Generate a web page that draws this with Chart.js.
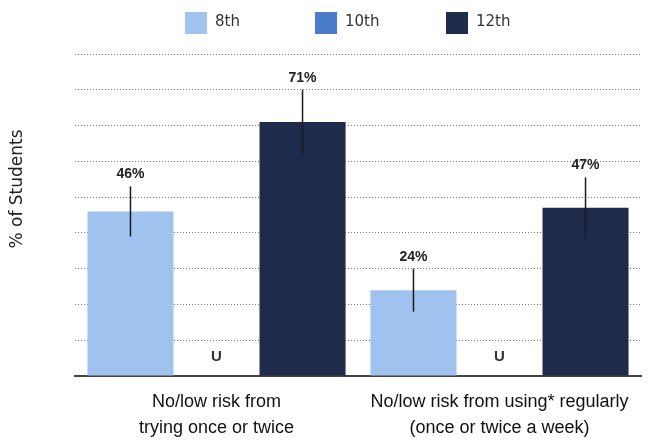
<!DOCTYPE html>
<html>
<head>
<meta charset="utf-8">
<script src="https://cdn.jsdelivr.net/npm/chart.js@4"></script>
<style>
  html, body { margin: 0; padding: 0; background: #fff; }
  #wrap { width: 650px; height: 440px; position: relative; }
</style>
</head>
<body>
<div id="wrap"><canvas id="chart"></canvas></div>
<script>
// categories and values
const categories = [
    ['No/low risk from', 'trying once or twice'],
    ['No/low risk from using* regularly', '(once or twice a week)']
];
const gradeNames = ['8th', '10th', '12th'];
const grade8 = [46, 24];
const grade10 = [null, null];   // "U" = unavailable
const grade12 = [71, 47];
// half-length of the confidence lines
const err8 = [7, 6];
const err12 = [9, 8.5];
const yMax = 90;
const yStep = 10;

const colors = ['#9fc3ee', '#4a7ccb', '#1f2b4b'];

// extra drawing: error lines, value labels, "U", legend, y title
const annotate = {
    id: 'annotate',
    afterDatasetsDraw(chart) {
        const ctx = chart.ctx;
        const y = chart.scales.y;
        const errs = [err8, null, err12];
        ctx.save();
        [0, 2].forEach(function(d) {
            const meta = chart.getDatasetMeta(d);
            const vals = chart.data.datasets[d].data;
            meta.data.forEach(function(bar, i) {
                const v = vals[i];
                if (v == null) return;
                const top = y.getPixelForValue(v + errs[d][i]);
                const bot = y.getPixelForValue(v - errs[d][i]);
                ctx.strokeStyle = '#1a1a1a';
                ctx.lineWidth = 1.5;
                ctx.beginPath();
                ctx.moveTo(bar.x, top);
                ctx.lineTo(bar.x, bot);
                ctx.stroke();
                ctx.fillStyle = '#222';
                ctx.font = 'bold 14px "Liberation Sans", Arial, sans-serif';
                ctx.textAlign = 'center';
                ctx.textBaseline = 'bottom';
                ctx.fillText(v + '%', bar.x, top - 5);
            });
        });
        // "U" in the empty 10th-grade slot
        const m8 = chart.getDatasetMeta(0);
        const m12 = chart.getDatasetMeta(2);
        grade10.forEach(function(v, i) {
            if (v != null) return;
            const x = (m8.data[i].x + m12.data[i].x) / 2;
            ctx.fillStyle = '#333';
            ctx.font = 'bold 15px "Liberation Sans", Arial, sans-serif';
            ctx.textAlign = 'center';
            ctx.textBaseline = 'middle';
            ctx.fillText('U', x, y.getPixelForValue(0) - 19);
        });
        ctx.restore();
    },
    afterDraw(chart) {
        const ctx = chart.ctx;
        ctx.save();
        // legend
        const boxX = [185, 315, 446];
        ctx.font = '15px "DejaVu Sans", sans-serif';
        ctx.textBaseline = 'middle';
        ctx.textAlign = 'left';
        gradeNames.forEach(function(name, i) {
            ctx.fillStyle = colors[i];
            ctx.fillRect(boxX[i], 12, 22, 22);
            ctx.fillStyle = '#333';
            ctx.fillText(name, boxX[i] + 30, 22);
        });
        // y axis title
        ctx.font = '17px "DejaVu Sans", sans-serif';
        ctx.translate(18, 189);
        ctx.rotate(-Math.PI / 2);
        ctx.textAlign = 'center';
        ctx.fillStyle = '#222';
        ctx.fillText('% of Students', 0, 0);
        ctx.restore();
    }
};

new Chart(document.getElementById('chart'), {
    type: 'bar',
    data: {
        labels: categories,
        datasets: [
            { label: gradeNames[0], data: grade8, backgroundColor: colors[0] },
            { label: gradeNames[1], data: grade10, backgroundColor: colors[1] },
            { label: gradeNames[2], data: grade12, backgroundColor: colors[2] }
        ]
    },
    options: {
        responsive: true,
        maintainAspectRatio: false,
        animation: false,
        layout: { padding: { top: 54, right: 9, left: 0, bottom: 0 } },
        datasets: {
            bar: { barPercentage: 1.0, categoryPercentage: 0.912 }
        },
        plugins: {
            legend: { display: false },
            tooltip: { enabled: false }
        },
        scales: {
            x: {
                grid: { display: false },
                border: { color: '#444', width: 2 },
                ticks: {
                    color: '#111',
                    padding: 5,
                    font: { family: '"Liberation Sans", Arial, sans-serif', size: 18, lineHeight: 1.45 }
                },
                afterFit: function(scale) { scale.height = 64; }
            },
            y: {
                min: 0,
                max: yMax,
                ticks: { display: false, stepSize: yStep },
                border: { display: false, dash: [1, 2] },
                grid: {
                    drawTicks: false,
                    color: function(c) { return c.tick.value === 0 ? 'rgba(0,0,0,0)' : '#777'; },
                    lineWidth: 1
                },
                afterFit: function(scale) { scale.width = 75; }
            }
        }
    },
    plugins: [annotate]
});
</script>
</body>
</html>
